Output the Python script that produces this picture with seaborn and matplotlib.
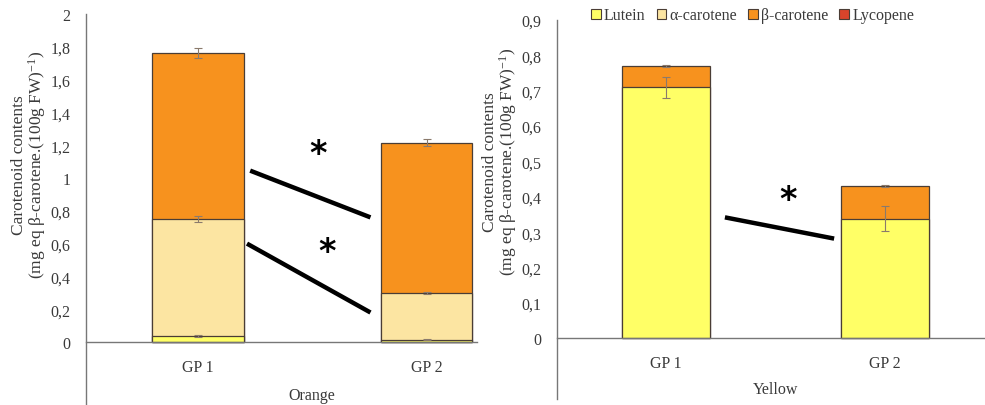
import matplotlib
matplotlib.use("Agg")
import matplotlib.pyplot as plt
from matplotlib.patches import Patch
import numpy as np
import pandas as pd
import seaborn as sns

# ---- data -------------------------------------------------------------
categories = ["GP 1", "GP 2"]
pigments = ["Lutein", "α-carotene", "β-carotene", "Lycopene"]

orange_lutein = [0.035, 0.015]
orange_alpha = [0.715, 0.285]
orange_beta = [1.010, 0.915]
orange_lycopene = [0.0, 0.0]
orange_err_lutein = [0.005, 0.003]
orange_err_alpha = [0.020, 0.008]
orange_err_beta = [0.030, 0.020]
orange_err_lycopene = [0.0, 0.0]

yellow_lutein = [0.709, 0.338]
yellow_alpha = [0.0, 0.0]
yellow_beta = [0.061, 0.093]
yellow_lycopene = [0.0, 0.0]
yellow_err_lutein = [0.030, 0.035]
yellow_err_alpha = [0.0, 0.0]
yellow_err_beta = [0.003, 0.002]
yellow_err_lycopene = [0.0, 0.0]

orange_yticks = [0, 0.2, 0.4, 0.6, 0.8, 1.0, 1.2, 1.4, 1.6, 1.8, 2.0]
orange_yticklabels = ["0", "0,2", "0,4", "0,6", "0,8", "1", "1,2", "1,4", "1,6", "1,8", "2"]
yellow_yticks = [0, 0.1, 0.2, 0.3, 0.4, 0.5, 0.6, 0.7, 0.8, 0.9]
yellow_yticklabels = ["0", "0,1", "0,2", "0,3", "0,4", "0,5", "0,6", "0,7", "0,8", "0,9"]

# significance connectors: (x0, y0, x1, y1) and star position (x, y)
orange_links = [(0.228, 1.045, 0.754, 0.760), (0.214, 0.600, 0.754, 0.180)]
orange_stars = [(0.526, 1.15), (0.565, 0.55)]
yellow_links = [(0.269, 0.342, 0.767, 0.282)]
yellow_stars = [(0.557, 0.392)]

# ---- style ------------------------------------------------------------
colors = ["#FFFF66", "#FCE5A2", "#F7921E", "#D9442B"]
edge = "#4a3d35"
text_col = "#3a3a3a"
axis_col = "#777777"

sns.set_style("white")
plt.rcParams["font.family"] = ["Liberation Serif", "DejaVu Serif"]
plt.rcParams["mathtext.fontset"] = "custom"
plt.rcParams["mathtext.rm"] = "Liberation Serif"
plt.rcParams["mathtext.it"] = "Liberation Serif:italic"

fig = plt.figure(figsize=(9.85, 4.06), dpi=100)
ax_o = fig.add_axes([0.0873, 0.0, 0.397, 0.963])
ax_y = fig.add_axes([0.5652, 0.0148, 0.4348, 0.934])

ylabel = "Carotenoid contents\n(mg eq β-carotene.(100g FW)$^{-1}$)"


def stacked(ax, layers, errs, ylim, yticks, yticklabels, xlim, xlabel,
            xlabel_pos, ylabel_pos, links, stars):
    cum = np.cumsum(np.array(layers), axis=0)
    # draw from the tallest cumulative layer down so every segment shows
    for i in range(len(layers) - 1, -1, -1):
        if not np.any(np.array(layers[i]) > 0):
            continue
        df = pd.DataFrame({"group": categories, "value": cum[i]})
        sns.barplot(data=df, x="group", y="value", color=colors[i],
                    saturation=1, width=0.4, edgecolor=edge, linewidth=0.9,
                    errorbar=None, ax=ax, zorder=2)
    for i in range(len(layers)):
        if not np.any(np.array(layers[i]) > 0):
            continue
        ax.errorbar(np.arange(len(categories)), cum[i], yerr=errs[i],
                    fmt="none", ecolor="#8a7a6c", elinewidth=0.8,
                    capsize=3, capthick=0.8, zorder=3)

    for x0, y0, x1, y1 in links:
        ax.plot([x0, x1], [y0, y1], color="black", lw=3.2,
                solid_capstyle="butt", zorder=4)
    for sx, sy in stars:
        ax.text(sx, sy, "*", fontsize=24, fontweight="bold",
                family="DejaVu Sans", ha="center", va="center",
                color="black", zorder=5)

    ax.set_xlim(*xlim)
    ax.set_ylim(*ylim)
    ax.set_yticks(yticks)
    ax.set_yticklabels(yticklabels)
    ax.tick_params(axis="y", direction="out", length=5, width=0.8,
                   color=axis_col, labelsize=11.5, labelcolor=text_col, pad=6)
    ax.tick_params(axis="x", length=0, labelsize=11.5, labelcolor=text_col,
                   pad=12)
    for s in ["top", "right"]:
        ax.spines[s].set_visible(False)
    ax.spines["bottom"].set_position(("data", 0))
    ax.spines["bottom"].set_color(axis_col)
    ax.spines["bottom"].set_linewidth(1.0)
    ax.spines["bottom"].set_zorder(6)
    ax.spines["left"].set_color(axis_col)
    ax.spines["left"].set_linewidth(1.0)
    ax.set_xlabel(xlabel, fontsize=11.5, color=text_col, va="center")
    ax.xaxis.set_label_coords(*xlabel_pos)
    ax.set_ylabel(ylabel, fontsize=12.5, color=text_col, linespacing=0.95,
                  va="center", ha="center")
    ax.yaxis.set_label_coords(*ylabel_pos)
    ax.grid(False)


stacked(ax_o,
        [orange_lutein, orange_alpha, orange_beta, orange_lycopene],
        [orange_err_lutein, orange_err_alpha, orange_err_beta, orange_err_lycopene],
        (-0.384, 2.0), orange_yticks, orange_yticklabels, (-0.49, 1.22),
        "Orange", (0.578, 0.026), (-0.145, 0.616), orange_links, orange_stars)

stacked(ax_y,
        [yellow_lutein, yellow_alpha, yellow_beta, yellow_lycopene],
        [yellow_err_lutein, yellow_err_alpha, yellow_err_beta, yellow_err_lycopene],
        (-0.171, 0.9), yellow_yticks, yellow_yticklabels, (-0.498, 1.455),
        "Yellow", (0.512, 0.026), (-0.132, 0.627), yellow_links, yellow_stars)

handles = [Patch(facecolor=c, edgecolor=edge, linewidth=0.8) for c in colors]
ax_y.legend(handles, pigments, loc="upper left", bbox_to_anchor=(0.065, 1.05),
            ncol=4, frameon=False, fontsize=11.5, handlelength=0.6,
            handleheight=0.6, handletextpad=0.2, columnspacing=0.7,
            borderaxespad=0, labelcolor=text_col)

fig.savefig("out.png", dpi=100)
